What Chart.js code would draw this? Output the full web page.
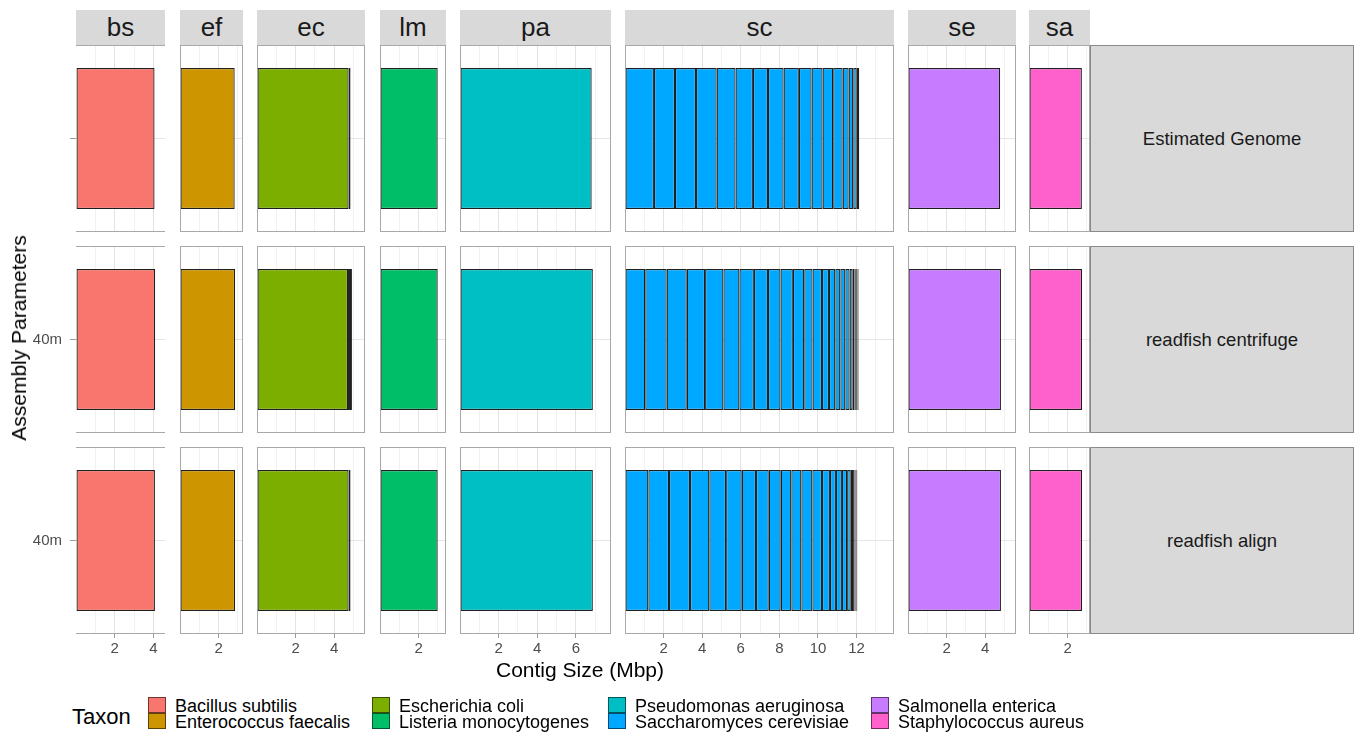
<!DOCTYPE html>
<html>
<head>
<meta charset="utf-8">
<script src="https://cdn.jsdelivr.net/npm/chart.js@4.4.0/dist/chart.umd.min.js"></script>
<style>
  body { margin: 0; background: #fff; font-family: "Liberation Sans", Arial, sans-serif; }
  #wrap { position: relative; width: 1356px; height: 732px; overflow: hidden; }
  .strip { position: absolute; background: #d9d9d9; color: #1a1a1a; display: flex; align-items: center; justify-content: center; box-sizing: border-box; }
  .txt { position: absolute; white-space: nowrap; color: #000; }
  .key { position: absolute; width: 18px; height: 16px; box-sizing: border-box; border: 1px solid rgba(0,0,0,0.55); }
</style>
</head>
<body>
<div id="wrap"></div>
<script>
// facets, taxa and rows of the grid
const facets = ['bs', 'ef', 'ec', 'lm', 'pa', 'sc', 'se', 'sa'];
const taxa = ['Bacillus subtilis', 'Enterococcus faecalis', 'Escherichia coli', 'Listeria monocytogenes',
  'Pseudomonas aeruginosa', 'Saccharomyces cerevisiae', 'Salmonella enterica', 'Staphylococcus aureus'];
const rowLabels = ['Estimated Genome', 'readfish centrifuge', 'readfish align'];
const yTickLabels = ['', '40m', '40m'];
// upper limit of each free x scale (Mbp)
const xMax = [4.6, 3.26, 5.6, 3.42, 7.82, 13.94, 5.6, 3.16];

// contig sizes (Mbp) per facet, one array per row
const estimatedGenome = [
  [4.06], [2.83], [4.75, 0.1], [2.99], [6.82],
  [1.50, 1.09, 1.09, 1.07, 0.98, 0.90, 0.78, 0.81, 0.79, 0.66, 0.57, 0.55, 0.49, 0.31, 0.24, 0.18, 0.13],
  [4.78], [2.74]
];
const readfishCentrifuge = [
  [4.09], [2.85], [4.72, 0.1, 0.1], [2.99], [6.88],
  [1.05, 1.11, 1.04, 0.95, 0.95, 0.83, 0.75, 0.73, 0.65, 0.64, 0.59, 0.43, 0.49, 0.36, 0.33, 0.26,
   0.26, 0.22, 0.16, 0.10, 0.06, 0.05, 0.04, 0.03, 0.03],
  [4.82], [2.75]
];
const readfishAlign = [
  [4.08], [2.85], [4.75, 0.1], [2.99], [6.88],
  [1.21, 1.07, 1.09, 1.00, 0.87, 0.81, 0.74, 0.66, 0.62, 0.55, 0.52, 0.57, 0.50, 0.41, 0.31, 0.31,
   0.27, 0.19, 0.12, 0.08, 0.05, 0.04, 0.03, 0.02],
  [4.82], [2.75]
];
const rows = [estimatedGenome, readfishCentrifuge, readfishAlign];

const palette = ['#F8766D', '#CD9600', '#7CAE00', '#00BE67', '#00BFC4', '#00A9FF', '#C77CFF', '#FF61CC'];

// layout
const colX = [76, 180, 257, 380, 460, 625, 908, 1029];
const colW = [89, 63, 108, 66, 151, 269, 108, 61];
const rowY = [45, 246, 447];
const rowH = 187;
const FONT = '"Liberation Sans", Arial, sans-serif';

Chart.defaults.font.family = FONT;
const wrap = document.getElementById('wrap');

function addDiv(cls, css, text) {
  const d = document.createElement('div');
  d.className = cls;
  d.style.cssText = css;
  if (text !== undefined) d.textContent = text;
  wrap.appendChild(d);
  return d;
}

// panel border drawn round the chart area
const panelFrame = {
  id: 'panelFrame',
  afterDraw(chart, args, opts) {
    const {ctx, chartArea: a} = chart;
    ctx.save();
    ctx.strokeStyle = '#a8a8a8';
    ctx.lineWidth = 1;
    ctx.beginPath();
    ctx.moveTo(a.left, a.top + 0.5); ctx.lineTo(a.right, a.top + 0.5);
    ctx.moveTo(a.left, a.bottom - 0.5); ctx.lineTo(a.right, a.bottom - 0.5);
    if (opts.sides) {
      ctx.moveTo(a.left + 0.5, a.top); ctx.lineTo(a.left + 0.5, a.bottom);
      ctx.moveTo(a.right - 0.5, a.top); ctx.lineTo(a.right - 0.5, a.bottom);
    }
    ctx.stroke();
    ctx.restore();
  }
};

const tickVal = ctx => (ctx.tick ? ctx.tick.value : 0);
const noPad = s => { s.paddingLeft = 0; s.paddingRight = 0; s.paddingTop = 0; s.paddingBottom = 0; };

facets.forEach((f, c) => {
  // column strip
  addDiv('strip', `left:${colX[c]}px;top:10px;width:${colW[c]}px;height:35px;font-size:26px;`, f);

  rows.forEach((row, r) => {
    const first = c === 0, bottom = r === rows.length - 1;
    const yw = first ? 46 : 0, xh = bottom ? 26 : 0;
    const cv = document.createElement('canvas');
    cv.width = colW[c] + yw;
    cv.height = rowH + xh;
    cv.style.cssText = `position:absolute;left:${colX[c] - yw}px;top:${rowY[r]}px;`;
    wrap.appendChild(cv);

    new Chart(cv, {
      type: 'bar',
      data: {
        labels: [yTickLabels[r]],
        datasets: row[c].map(v => ({
          label: taxa[c],
          data: [v],
          backgroundColor: palette[c],
          borderColor: 'rgba(0,0,0,0.88)',
          borderWidth: 1.25,
          borderSkipped: false,
          inflateAmount: 0,
          barPercentage: 0.755,
          categoryPercentage: 1
        }))
      },
      options: {
        indexAxis: 'y',
        responsive: false,
        animation: false,
        events: [],
        layout: { padding: 0 },
        plugins: {
          legend: { display: false },
          tooltip: { enabled: false },
          panelFrame: { sides: c !== 0 }
        },
        scales: {
          x: {
            type: 'linear',
            stacked: true,
            min: 0,
            max: xMax[c],
            border: { display: false },
            afterFit: s => { s.height = xh; noPad(s); },
            grid: {
              color: ctx => {
                const v = tickVal(ctx);
                if (v <= 0) return 'rgba(0,0,0,0)';
                return v % 2 === 0 ? '#e3e3e3' : '#f1f1f1';
              },
              drawTicks: bottom,
              tickLength: 4,
              tickColor: ctx => {
                const v = tickVal(ctx);
                return v > 0 && v % 2 === 0 ? '#9a9a9a' : 'rgba(0,0,0,0)';
              }
            },
            ticks: {
              display: bottom,
              stepSize: 1,
              includeBounds: false,
              autoSkip: false,
              maxRotation: 0,
              padding: 1,
              color: '#4d4d4d',
              font: { size: 15, lineHeight: 1.3 },
              callback: v => (v > 0 && v % 2 === 0 ? v : '')
            }
          },
          y: {
            stacked: true,
            border: { display: false },
            afterFit: s => { s.width = yw; noPad(s); },
            grid: { offset: false, color: '#e6e6e6', drawTicks: first, tickLength: 6, tickColor: '#9a9a9a' },
            ticks: { display: first, padding: 8, color: '#4d4d4d', font: { size: 15 } }
          }
        }
      },
      plugins: [panelFrame]
    });
  });
});

// row strips on the right
rowLabels.forEach((lab, r) => {
  addDiv('strip', `left:1090px;top:${rowY[r]}px;width:264px;height:${rowH}px;font-size:18.5px;border:1px solid #8a8a8a;`, lab);
});

// axis titles
addDiv('txt', 'left:580px;top:670px;transform:translate(-50%,-50%);font-size:21px;', 'Contig Size (Mbp)');
addDiv('txt', 'left:19px;top:338px;transform:translate(-50%,-50%) rotate(-90deg);font-size:21px;', 'Assembly Parameters');

// legend
addDiv('txt', 'left:72px;top:717px;transform:translateY(-50%);font-size:22px;', 'Taxon');
const keyX = [148, 372, 608, 871];
taxa.forEach((t, i) => {
  const col = Math.floor(i / 2), line = i % 2;
  const top = 697 + line * 16;
  addDiv('key', `left:${keyX[col]}px;top:${top}px;background:${palette[i]};`);
  addDiv('txt', `left:${keyX[col] + 27}px;top:${top + 9}px;transform:translateY(-50%);font-size:18px;line-height:18px;`, t);
});
</script>
</body>
</html>
